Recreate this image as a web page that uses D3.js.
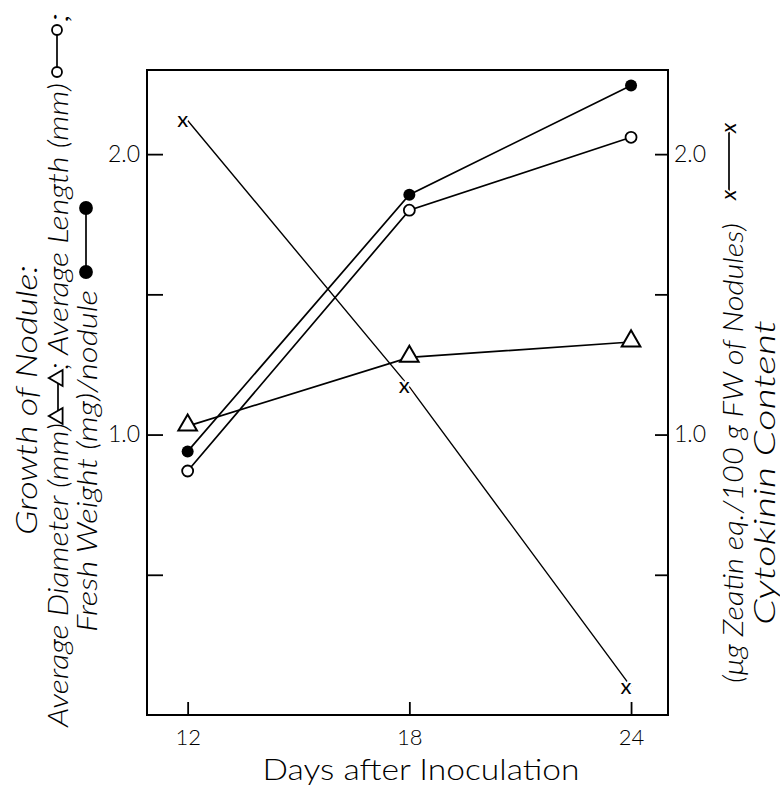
<!DOCTYPE html>
<html>
<head>
<meta charset="utf-8">
<script src="https://cdn.jsdelivr.net/npm/d3@7"></script>
<style>
  body { margin: 0; background: #fff; }
  svg { display: block; }
  text { font-family: Lato, "Open Sans", "DejaVu Sans", sans-serif; fill: #000; }
</style>
</head>
<body>
<svg id="chart" width="780" height="791"></svg>
<script>
// values
var days = [12, 18, 24];
var diameter = [1.03, 1.275, 1.33];      // triangles
var lengthMm = [0.87, 1.80, 2.06];       // open circles
var freshWeight = [0.94, 1.855, 2.245];  // filled circles
var cytokinin = [2.12, 1.17, 0.10];      // x marks, right axis
var leftTicks = [0.5, 1.0, 1.5, 2.0];
var rightTicks = [0.5, 1.0, 1.5, 2.0];

var svg = d3.select("#chart");

var x = d3.scaleLinear().domain([10.9, 25]).range([147, 668]);
var yL = d3.scaleLinear().domain([0, 2.3]).range([715, 70]);
var yR = d3.scaleLinear().domain([0, 2.3]).range([715, 70]);

var tickFmt = function(d) { return d % 1 === 0 ? d.toFixed(1) : ""; };

// frame
svg.append("rect")
    .attr("x", x.range()[0])
    .attr("y", yL.range()[1])
    .attr("width", x.range()[1] - x.range()[0])
    .attr("height", yL.range()[0] - yL.range()[1])
    .attr("fill", "none")
    .attr("stroke", "#000")
    .attr("stroke-width", 2);

function styleAxis(g, size) {
    g.select(".domain").remove();
    g.selectAll(".tick line").attr("stroke", "#000").attr("stroke-width", 1.8);
    g.selectAll(".tick text")
        .attr("font-family", "Lato, 'Open Sans', sans-serif")
        .attr("font-weight", 300)
        .attr("font-size", size);
}

svg.append("g")
    .attr("transform", "translate(0," + yL.range()[0] + ")")
    .call(d3.axisBottom(x).tickValues(days).tickSize(-13).tickPadding(14))
    .call(styleAxis, 22);

svg.append("g")
    .attr("transform", "translate(" + x.range()[0] + ",0)")
    .call(d3.axisLeft(yL).tickValues(leftTicks).tickFormat(tickFmt).tickSize(-16).tickPadding(7))
    .call(styleAxis, 23);

svg.append("g")
    .attr("transform", "translate(" + x.range()[1] + ",0)")
    .call(d3.axisRight(yR).tickValues(rightTicks).tickFormat(tickFmt).tickSize(-13).tickPadding(6))
    .call(styleAxis, 23);

// series
function pts(vals, scale) {
    return days.map(function(d, i) { return [x(d), scale(vals[i])]; });
}
var line = d3.line();

[diameter, lengthMm, freshWeight].forEach(function(s) {
    svg.append("path").attr("d", line(pts(s, yL)))
        .attr("fill", "none").attr("stroke", "#000").attr("stroke-width", 1.7);
});
svg.append("path").attr("d", line(pts(cytokinin, yR)))
    .attr("fill", "none").attr("stroke", "#000").attr("stroke-width", 1.4);

var tri = d3.symbol().type(d3.symbolTriangle).size(150);

svg.selectAll(".tri").data(pts(diameter, yL)).enter().append("path")
    .attr("transform", function(p) { return "translate(" + p[0] + "," + (p[1] - 1) + ")"; })
    .attr("d", tri)
    .attr("fill", "#fff").attr("stroke", "#000").attr("stroke-width", 2);

svg.selectAll(".open").data(pts(lengthMm, yL)).enter().append("circle")
    .attr("cx", function(p) { return p[0]; })
    .attr("cy", function(p) { return p[1]; })
    .attr("r", 5.5)
    .attr("fill", "#fff").attr("stroke", "#000").attr("stroke-width", 1.8);

svg.selectAll(".filled").data(pts(freshWeight, yL)).enter().append("circle")
    .attr("cx", function(p) { return p[0]; })
    .attr("cy", function(p) { return p[1]; })
    .attr("r", 6)
    .attr("fill", "#000");

svg.selectAll(".xm").data(pts(cytokinin, yR)).enter().append("text")
    .attr("x", function(p) { return p[0] - 5; })
    .attr("y", function(p) { return p[1]; })
    .attr("dy", "0.3em")
    .attr("text-anchor", "middle")
    .attr("font-size", 22)
    .attr("font-weight", 400)
    .attr("stroke", "#fff").attr("stroke-width", 5)
    .attr("paint-order", "stroke")
    .text("x");

// vertical labels, drawn piece by piece (screen y from bottom to top)
function vtext(bx, y0, y1, str, size) {
    svg.append("text")
        .attr("transform", "translate(" + bx + "," + y0 + ") rotate(-90)")
        .attr("font-size", size)
        .attr("font-style", "italic")
        .attr("font-weight", 300)
        .attr("textLength", y0 - y1)
        .attr("lengthAdjust", "spacingAndGlyphs")
        .text(str);
}
function vsym(cx, y0, y1, kind) {
    svg.append("line")
        .attr("x1", cx).attr("x2", cx).attr("y1", y0).attr("y2", y1)
        .attr("stroke", "#000").attr("stroke-width", 1.7);
    [y0, y1].forEach(function(yy) {
        if (kind === "tri") {
            svg.append("path")
                .attr("transform", "translate(" + cx + "," + yy + ") rotate(-90)")
                .attr("d", d3.symbol().type(d3.symbolTriangle).size(110)())
                .attr("fill", "#fff").attr("stroke", "#000").attr("stroke-width", 1.8);
        } else if (kind === "x") {
            svg.append("text")
                .attr("transform", "translate(" + cx + "," + yy + ") rotate(-90)")
                .attr("text-anchor", "middle").attr("dy", "0.3em")
                .attr("font-size", 22).attr("font-style", "italic")
                .attr("stroke", "#fff").attr("stroke-width", 4).attr("paint-order", "stroke")
                .text("x");
        } else {
            svg.append("circle")
                .attr("cx", cx).attr("cy", yy).attr("r", kind === "filled" ? 6 : 5)
                .attr("fill", kind === "filled" ? "#000" : "#fff")
                .attr("stroke", "#000").attr("stroke-width", 1.8);
        }
    });
}

// left title
vtext(37, 535, 265, "Growth of Nodule:", 30);
vtext(68, 727, 423, "Average Diameter (mm)", 28);
vsym(58, 416, 378, "tri");
vtext(68, 370, 83, "; Average Length (mm)", 28);
vsym(57, 72, 30, "open");
vtext(68, 23, 12, ";", 28);
vtext(97, 632, 290, "Fresh Weight (mg)/nodule", 28);
vsym(86, 272, 208, "filled");

// right title
vtext(743, 683, 223, "(\u03bcg Zeatin eq./100 g FW of Nodules)", 27);
vsym(729, 195, 128, "x");
vtext(775, 625, 320, "Cytokinin Content", 29);

// x axis title
svg.append("text")
    .attr("x", 421).attr("y", 780)
    .attr("text-anchor", "middle")
    .attr("font-size", 30)
    .attr("font-weight", 300)
    .attr("textLength", 317)
    .attr("lengthAdjust", "spacingAndGlyphs")
    .text("Days after Inoculation");
</script>
</body>
</html>
